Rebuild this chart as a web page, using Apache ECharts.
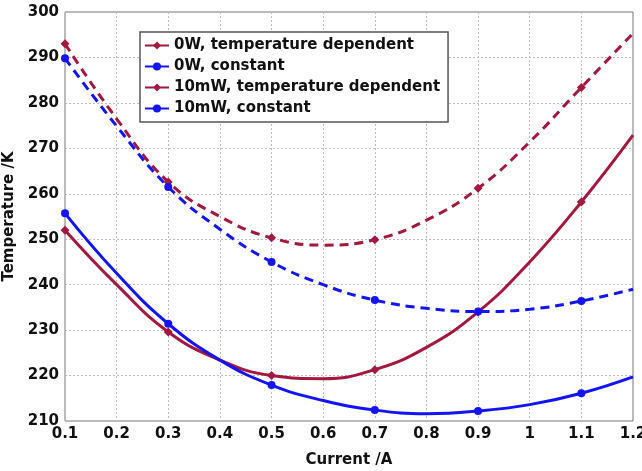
<!DOCTYPE html>
<html><head><meta charset="utf-8">
<script src="https://cdn.jsdelivr.net/npm/echarts@6/dist/echarts.min.js"></script>
<style>html,body{margin:0;padding:0;background:#fff}#c{width:642px;height:471px}</style>
</head><body><div id="c"></div>
<script>
const current = [0.1,0.2,0.3,0.4,0.5,0.6,0.7,0.8,0.9,1.0,1.1,1.2];
const w0TempDep = [252.0,240.0,229.6,223.4,220.0,219.3,221.3,226.2,234.0,245.0,258.2,272.9];
const w0Const   = [255.7,242.5,231.4,223.4,217.9,214.5,212.4,211.6,212.2,213.6,216.1,219.7];
const mw10TempDep = [293.0,276.5,262.6,255.0,250.3,248.7,249.9,254.2,261.2,271.4,283.4,295.3];
const mw10Const   = [289.8,274.9,261.5,252.2,245.0,240.0,236.6,234.8,234.1,234.6,236.4,239.0];
const names = ['0W, temperature dependent','0W, constant','10mW, temperature dependent','10mW, constant'];
const red = '#a3183f', blue = '#1414f5';
const font = 'DejaVu Sans';
function mk(name, vals, color, dashed, sym){
  return {
    name, type:'line', smooth:0.45,
    data: current.map((x,i)=>[x, vals[i]]),
    symbol: sym,
    symbolSize: (v,p)=> (p.dataIndex%2===0 && p.dataIndex<11) ? (sym==='circle'?8:9) : 0,
    showAllSymbol: true,
    itemStyle:{color},
    lineStyle:{color, width:3, type: dashed?[9,6]:'solid'},
    z: 2
  };
}
const chart = echarts.init(document.getElementById('c'));
chart.setOption({
  animation:false,
  grid:{left:65, right:9, top:12, bottom:50, show:true, borderColor:'#777', borderWidth:1, outerBoundsMode:'none', containLabel:false},
  legend:{
    orient:'vertical', left:140, top:32, itemGap:6, itemWidth:24, itemHeight:10,
    padding:[6,8,6,4], borderColor:'#555', borderWidth:1.5, backgroundColor:'#fff',
    textStyle:{fontFamily:font, fontWeight:'bold', fontSize:15, color:'#111'},
    data: names
  },
  xAxis:{
    type:'value', min:0.1, max:1.2, interval:0.1,
    name:'Current /A', nameLocation:'middle', nameGap:32,
    nameTextStyle:{fontFamily:font, fontWeight:'bold', fontSize:15, color:'#111'},
    axisLine:{show:false}, axisTick:{show:false},
    axisLabel:{fontFamily:font, fontWeight:'bold', fontSize:15, color:'#111', margin:6,
      formatter:v=>String(Math.round(v*10)/10)},
    splitLine:{show:true, lineStyle:{color:'#bbb', type:[2,2], width:1}}
  },
  yAxis:{
    type:'value', min:210, max:300, interval:10,
    name:'Temperature /K', nameLocation:'middle', nameGap:47,
    nameTextStyle:{fontFamily:font, fontWeight:'bold', fontSize:15, color:'#111'},
    axisLine:{show:false}, axisTick:{show:false},
    axisLabel:{fontFamily:font, fontWeight:'bold', fontSize:15, color:'#111', margin:6},
    splitLine:{show:true, lineStyle:{color:'#bbb', type:[2,2], width:1}}
  },
  series:[
    mk(names[0], w0TempDep, red, false, 'diamond'),
    mk(names[1], w0Const, blue, false, 'circle'),
    mk(names[2], mw10TempDep, red, true, 'diamond'),
    mk(names[3], mw10Const, blue, true, 'circle')
  ]
});
</script></body></html>
